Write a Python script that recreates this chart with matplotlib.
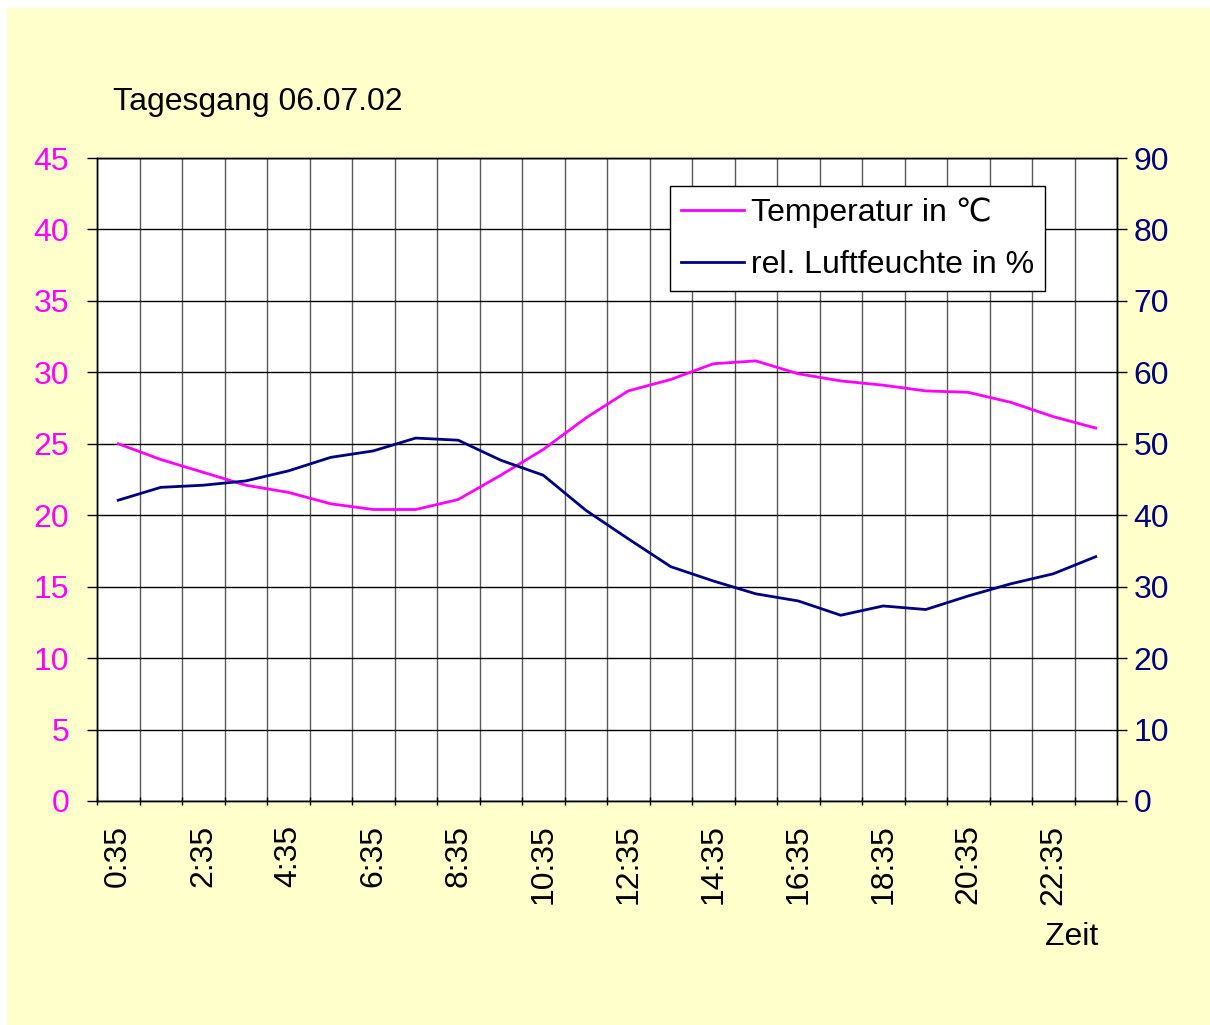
import matplotlib.pyplot as plt
import numpy as np
from matplotlib.patches import Rectangle

plt.rcParams['font.family'] = ['Liberation Sans', 'DejaVu Sans']

# ── Daten ──────────────────────────────────────────────
zeiten = [f'{h}:35' for h in range(24)]
temperatur = [25.0, 23.9, 23.0, 22.1, 21.6, 20.8, 20.4, 20.4, 21.1, 22.8,
              24.6, 26.8, 28.7, 29.5, 30.6, 30.8, 29.9, 29.4, 29.1, 28.7,
              28.6, 27.9, 26.9, 26.1]
feuchte = [42.1, 43.9, 44.2, 44.8, 46.2, 48.1, 49.0, 50.8, 50.5, 47.7,
           45.6, 40.7, 36.7, 32.8, 30.8, 29.0, 28.0, 26.0, 27.3, 26.8,
           28.7, 30.4, 31.8, 34.2]

MAGENTA = '#FF00FF'
NAVY = '#000080'
BG = '#FFFFCC'
FS = 23

W, H = 1210, 1025
fig = plt.figure(figsize=(W / 100, H / 100), dpi=100)
fig.patch.set_facecolor('white')
fig.patches.append(Rectangle((7 / W, 0), 1 - 7 / W, 1 - 8 / H,
                             transform=fig.transFigure, facecolor=BG,
                             edgecolor='none', zorder=-10))

ax = fig.add_axes([97 / W, 1 - 801 / H, (1117 - 97) / W, (801 - 158) / H])
ax.set_facecolor('white')
ax2 = ax.twinx()

x = np.arange(len(zeiten))
l1, = ax.plot(x, temperatur, color=MAGENTA, lw=2, zorder=3)
l2, = ax2.plot(x, feuchte, color=NAVY, lw=2, zorder=3)

ax.set_xlim(-0.5, len(zeiten) - 0.5)
ax.set_ylim(0, 45)
ax2.set_ylim(0, 90)
ax.set_yticks(np.arange(0, 46, 5))
ax2.set_yticks(np.arange(0, 91, 10))

# Gitter: senkrecht an Kategoriegrenzen, waagrecht an Hauptstrichen
ax.set_xticks(np.arange(-0.5, len(zeiten), 1))
ax.set_xticklabels([])
ax.set_xticks(x[::2], minor=True)
ax.set_xticklabels(zeiten[::2], minor=True, rotation=90, fontsize=FS)
ax.tick_params(axis='x', which='major', length=6, direction='inout', width=1)
ax.tick_params(axis='x', which='minor', length=0, pad=17)
ax.grid(axis='x', which='major', color='#5a5a5a', lw=1)
ax.grid(axis='y', color='black', lw=1)
ax.set_axisbelow(True)

ax.tick_params(axis='y', colors=MAGENTA, labelsize=FS, length=7, width=1, pad=13)
ax2.tick_params(axis='y', colors=NAVY, labelsize=FS, length=7, width=1, pad=5)
for a in (ax, ax2):
    for s in a.spines.values():
        s.set_color('black')
        s.set_linewidth(1)
ax.tick_params(axis='y', color='black')
ax2.tick_params(axis='y', color='black')

fig.text(113 / W, 1 - 102 / H, 'Tagesgang 06.07.02', fontsize=FS,
         ha='left', va='center')
fig.text(1072 / W, 1 - 937 / H, 'Zeit', fontsize=FS, ha='center', va='center')

leg = ax2.legend([l1, l2], ['Temperatur in \u2103', 'rel. Luftfeuchte in %'],
                 loc='upper left', bbox_to_anchor=(0.5618, 0.9565),
                 borderaxespad=0, fontsize=FS, frameon=True, fancybox=False,
                 handlelength=1.95, handletextpad=0.22, borderpad=0.35,
                 labelspacing=0.7)
leg.get_frame().set_edgecolor('black')
leg.get_frame().set_linewidth(1)
leg.get_frame().set_facecolor('white')
leg.get_frame().set_alpha(1)

fig.savefig('out.png', dpi=100, facecolor=fig.get_facecolor())
